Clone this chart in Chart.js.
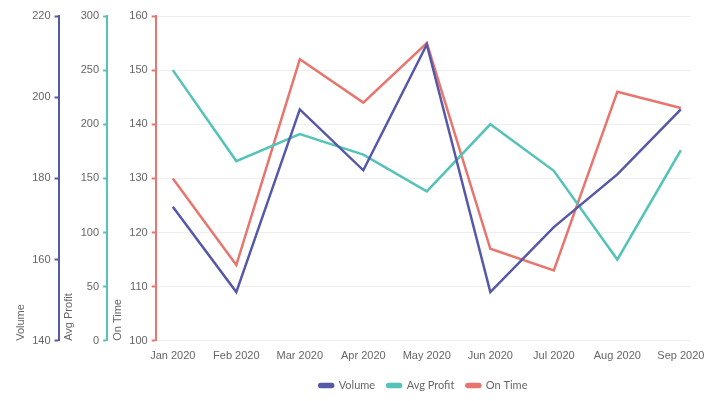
<!DOCTYPE html>
<html>
<head>
<meta charset="utf-8">
<script src="https://cdn.jsdelivr.net/npm/chart.js"></script>
<style>
  html, body { margin: 0; padding: 0; background: #fff; }
  #wrap { width: 720px; height: 401px; position: relative; }
</style>
</head>
<body>
<div id="wrap"><canvas id="chart"></canvas></div>
<script>
const months = ['Jan 2020','Feb 2020','Mar 2020','Apr 2020','May 2020','Jun 2020','Jul 2020','Aug 2020','Sep 2020'];
const volume = [173, 152, 197, 182, 213, 152, 168, 181, 197];
const avgProfit = [250, 166, 191, 172, 138, 200, 157, 75, 176];
const onTime = [130, 114, 152, 144, 155, 117, 113, 146, 143];

const purple = '#5658a8';
const teal = '#56c3b9';
const red = '#e8756e';
const grey = '#666';

Chart.defaults.font.family = '"Liberation Sans", Arial, sans-serif';
Chart.defaults.font.size = 11;
Chart.defaults.color = grey;

// turn a series into {x, y} points on the numeric x axis
const pts = arr => arr.map((v, i) => ({ x: i, y: v }));

// y axis settings shared by the three left axes
function yAxis(color, title, min, max, step, showGrid) {
    return {
        position: 'left',
        min: min, max: max,
        ticks: { stepSize: step, padding: 4, color: grey },
        grid: {
            display: true,
            drawOnChartArea: showGrid,
            color: '#eeeeee',
            tickColor: color,
            tickLength: 4,
            tickWidth: 2
        },
        border: { display: true, color: color, width: 2 },
        title: { display: true, text: title, align: 'start', color: grey, padding: { top: 4, bottom: 1 } }
    };
}

new Chart(document.querySelector('#chart').getContext('2d'), {
    type: 'line',
    data: {
        datasets: [
        {
            label: 'Volume',
            data: pts(volume),
            yAxisID: 'yVolume',
            borderColor: purple,
            backgroundColor: purple,
            borderWidth: 2.5
        },
        {
            label: 'Avg Profit',
            data: pts(avgProfit),
            yAxisID: 'yProfit',
            borderColor: teal,
            backgroundColor: teal,
            borderWidth: 2.5
        },
        {
            label: 'On Time',
            data: pts(onTime),
            yAxisID: 'yOnTime',
            borderColor: red,
            backgroundColor: red,
            borderWidth: 2.5
        }
        ]
    },
    options: {
        responsive: true,
        maintainAspectRatio: false,
        animation: false,
        elements: { point: { radius: 0, hoverRadius: 0 }, line: { tension: 0 } },
        layout: { padding: { left: 10, right: 29, top: 16, bottom: 0 } },
        scales: {
            // the first one declared sits next to the plot
            yOnTime: yAxis(red, 'On Time', 100, 160, 10, true),
            yProfit: yAxis(teal, 'Avg Profit', 0, 300, 50, false),
            yVolume: yAxis(purple, 'Volume', 140, 220, 20, false),
            x: {
                type: 'linear',
                min: -0.27,
                max: 8.16,
                afterBuildTicks: s => { s.ticks = months.map((m, i) => ({ value: i })); },
                afterFit: s => { s.height -= 4; },
                ticks: { callback: v => months[v], autoSkip: false, maxRotation: 0, padding: 9, color: grey },
                grid: { display: false, drawTicks: false },
                border: { display: false }
            }
        },
        plugins: {
            legend: {
                position: 'bottom',
                fullSize: false,
                labels: {
                    boxWidth: 14,
                    boxHeight: 3,
                    useBorderRadius: true,
                    borderRadius: 1.5,
                    padding: 12,
                    color: grey,
                    font: { family: 'Lato, "Open Sans", sans-serif', size: 11 }
                }
            },
            tooltip: { enabled: false }
        }
    }
})
</script>
</body>
</html>
